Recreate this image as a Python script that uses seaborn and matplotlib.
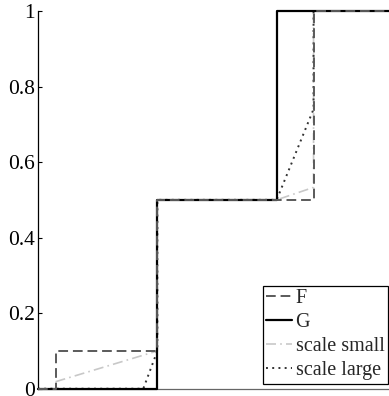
import matplotlib
matplotlib.use("Agg")
import matplotlib.pyplot as plt
import seaborn as sns
import numpy as np

# Data
f_x = [0.0, 0.5, 3.4, 7.85, 10.5]
f_y = [0.0, 0.1, 0.5, 1.0, 1.0]
g_x = [0.0, 3.4, 6.8, 10.5]
g_y = [0.0, 0.5, 1.0, 1.0]
small_x = [0.5, 3.4, 3.4, 6.8, 7.85, 7.85, 10.5]
small_y = [0.0185, 0.1, 0.5, 0.5, 0.533, 1.0, 1.0]
large_x = [0.0, 3.0, 3.4, 3.4, 6.8, 7.85, 7.85, 10.5]
large_y = [0.0, 0.0, 0.1, 0.5, 0.5, 0.74, 1.0, 1.0]
yticks = [0, 0.2, 0.4, 0.6, 0.8, 1]
ytick_labels = ["0", "0.2", "0.4", "0.6", "0.8", "1"]
labels = ["F", "G", "scale small", "scale large"]

sns.set_style("white")
plt.rcParams['font.family'] = ['Liberation Serif', 'DejaVu Serif']

fig = plt.figure(figsize=(3.89, 3.96), dpi=100)
ax = fig.add_axes([38/389, 7.3/396, 1 - 38/389, 377.7/396])

sns.lineplot(x=small_x, y=small_y, ax=ax, sort=False, estimator=None,
             color="#c8c8c8", linestyle=(0, (6, 2.5, 1, 2.5)), linewidth=1.2, zorder=2)
sns.lineplot(x=large_x, y=large_y, ax=ax, sort=False, estimator=None,
             color="#333333", linestyle=(0, (1, 2.2)), linewidth=1.4, zorder=2)
sns.lineplot(x=g_x, y=g_y, ax=ax, sort=False, estimator=None, drawstyle="steps-post",
             color="black", linestyle="-", linewidth=1.6, zorder=3)
sns.lineplot(x=f_x, y=f_y, ax=ax, sort=False, estimator=None, drawstyle="steps-post",
             color="#5a5a5a", linestyle=(0, (5, 2.5)), linewidth=1.4, zorder=4)

lines = ax.get_lines()
# lines order: small, large, G, F
handles = [lines[3], lines[2], lines[0], lines[1]]
leg = ax.legend(handles, labels, loc="lower right", fontsize=14.5, frameon=True,
                fancybox=False, borderaxespad=0, bbox_to_anchor=(1 - 1/351, 5/378),
                handlelength=1.3, handletextpad=0.15, labelspacing=0.24, borderpad=0.18)
leg.get_frame().set_edgecolor("black")
leg.get_frame().set_linewidth(0.9)
leg.get_frame().set_alpha(1)

ax.set_xlim(0, 10)
ax.set_ylim(0, 1)
ax.set_xticks([])
ax.set_yticks(yticks)
ax.set_yticklabels(ytick_labels, fontsize=15.5)
ax.tick_params(axis="y", direction="in", length=3, width=0.8, pad=2, left=True, colors="black")
for s in ["top", "right"]:
    ax.spines[s].set_visible(False)
ax.spines["left"].set_color("black")
ax.spines["left"].set_linewidth(0.9)
ax.spines["bottom"].set_color("#666666")
ax.spines["bottom"].set_linewidth(0.9)
ax.set_xlabel("")
ax.set_ylabel("")
for l in ax.get_lines():
    l.set_clip_on(False)

fig.savefig("out.png", dpi=100)
